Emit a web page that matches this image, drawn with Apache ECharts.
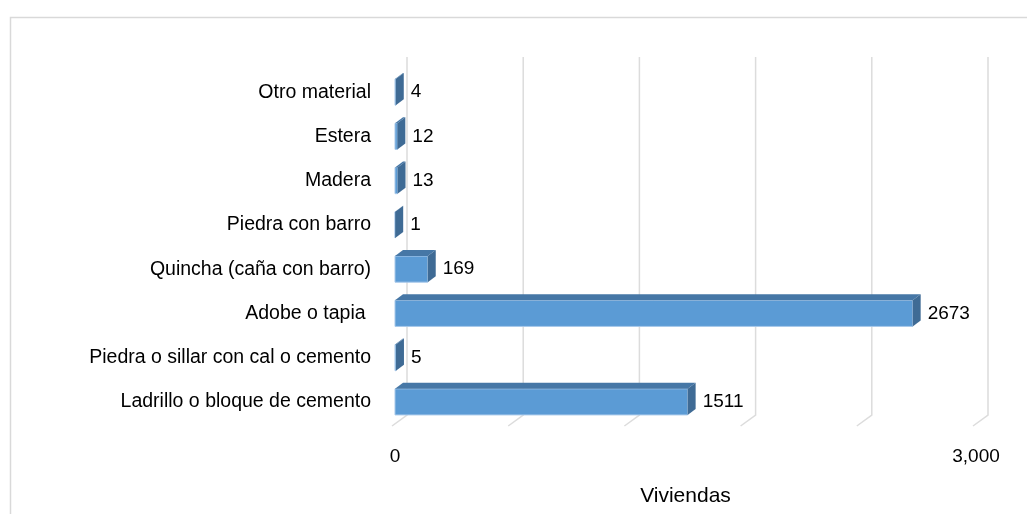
<!DOCTYPE html>
<html>
<head>
<meta charset="utf-8">
<script src="https://cdn.jsdelivr.net/npm/echarts@6/dist/echarts.min.js"></script>
<style>
  html, body { margin: 0; padding: 0; background: #fff; }
  #chart { width: 1027px; height: 514px; }
</style>
</head>
<body>
<div id="chart"></div>
<script>
// categories listed top to bottom, as in the picture
const categories = [
  'Otro material',
  'Estera',
  'Madera',
  'Piedra con barro',
  'Quincha (caña con barro)',
  'Adobe o tapia ',
  'Piedra o sillar con cal o cemento',
  'Ladrillo o bloque de cemento'
];
const viviendas = [4, 12, 13, 1, 169, 2673, 5, 1511];
const gridTicks = [0, 600, 1200, 1800, 2400, 3000];
const axisLabels = { 0: '0', 3000: '3,000' };

const FONT = '"Liberation Sans", Arial, sans-serif';
const DX = 8, DY = -6;   // depth of the 3d bars

const myChart = echarts.init(document.getElementById('chart'));

// back wall gridlines with the little floor step
function renderGrid(params, api) {
  const cs = params.coordSys;
  const p = api.coord([api.value(0), 0]);
  const xb = p[0] + 12;
  const top = cs.y - 13, bot = cs.y + cs.height - 9;
  return {
    type: 'polyline',
    shape: { points: [[xb, top], [xb, bot], [p[0] - 3, bot + 11]] },
    style: { stroke: '#dcdcdc', lineWidth: 1.5, fill: null },
    silent: true
  };
}

function renderBar(params, api) {
  const v = api.value(0), c = api.value(1);
  const p0 = api.coord([0, c]);
  const p1 = api.coord([v, c]);
  const h = api.size([0, 1])[1] * 0.59;
  const x0 = p0[0], x1 = p1[0], y0 = p0[1] - h / 2;
  return {
    type: 'group',
    children: [
      {
        type: 'rect',
        shape: { x: x0, y: y0, width: x1 - x0, height: h },
        style: { fill: '#5B9BD5', stroke: '#a8c9ea', lineWidth: 1 }
      },
      {
        type: 'polygon',
        shape: { points: [[x0, y0], [x1, y0], [x1 + DX, y0 + DY], [x0 + DX, y0 + DY]] },
        style: { fill: '#4677a6' }
      },
      {
        type: 'polygon',
        shape: { points: [[x1, y0], [x1 + DX, y0 + DY], [x1 + DX, y0 + h + DY], [x1, y0 + h]] },
        style: { fill: '#3f6b95' }
      },
      {
        type: 'text',
        style: {
          x: x1 + DX + 7, y: p0[1],
          text: String(v),
          fill: '#000',
          font: '19px ' + FONT,
          verticalAlign: 'middle',
          align: 'left'
        }
      }
    ]
  };
}

const option = {
  animation: false,
  backgroundColor: '#fff',
  graphic: [{
    type: 'rect',
    left: 8, top: 15,
    shape: { width: 1100, height: 600 },
    style: { fill: null, stroke: '#d9d9d9', lineWidth: 1.5 },
    silent: true
  }],
  grid: { left: 395, right: 51, top: 70, bottom: 90 },
  xAxis: {
    type: 'value',
    min: 0,
    max: 3000,
    interval: 600,
    name: 'Viviendas',
    nameLocation: 'middle',
    nameGap: 62,
    nameTextStyle: { fontFamily: FONT, fontSize: 21, color: '#000' },
    axisLine: { show: false },
    axisTick: { show: false },
    splitLine: { show: false },
    axisLabel: {
      margin: 23,
      fontFamily: FONT,
      fontSize: 19,
      color: '#000',
      formatter: function (val) { return axisLabels[val] !== undefined ? axisLabels[val] : ''; }
    }
  },
  yAxis: {
    type: 'category',
    data: categories,
    inverse: true,
    axisLine: { show: false },
    axisTick: { show: false },
    axisLabel: { margin: 24, fontFamily: FONT, fontSize: 19.5, color: '#000' }
  },
  series: [
    {
      type: 'custom',
      renderItem: renderGrid,
      data: gridTicks.map(function (t) { return [t]; }),
      encode: { x: 0 },
      z: 1,
      silent: true
    },
    {
      type: 'custom',
      renderItem: renderBar,
      data: viviendas.map(function (v, i) { return [v, i]; }),
      encode: { x: 0, y: 1 },
      z: 2
    }
  ]
};

myChart.setOption(option);
</script>
</body>
</html>
